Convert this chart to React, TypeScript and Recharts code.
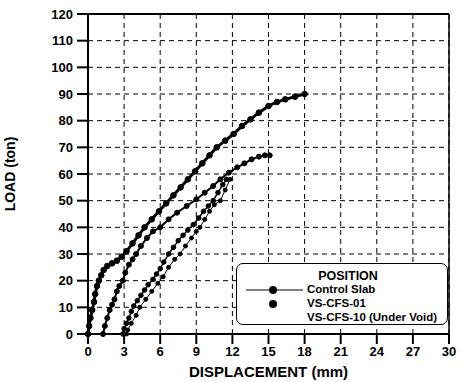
import React from "react";
import {
  CartesianGrid,
  Line,
  LineChart,
  ReferenceLine,
  XAxis,
  YAxis,
} from "recharts";

const FONT = '"Liberation Sans", Arial, sans-serif';

const xTicks = [0, 3, 6, 9, 12, 15, 18, 21, 24, 27, 30];
const yTicks = [0, 10, 20, 30, 40, 50, 60, 70, 80, 90, 100, 110, 120];

const seriesNames = ["Control Slab", "VS-CFS-01", "VS-CFS-10 (Under Void)"];

// curve A (steep start, ends at 90 ton)
const controlDisp = [0, 0.1, 0.2, 0.35, 0.5, 0.6, 0.75, 0.9, 1.1, 1.3, 1.6, 2.0, 2.4, 2.8, 3.2, 3.7, 4.2, 4.7, 5.3, 5.9, 6.5, 7.1, 7.7, 8.3, 8.9, 9.5, 10.1, 10.7, 11.4, 12.1, 12.8, 13.5, 14.2, 15.0, 15.7, 16.4, 17.2, 18.0];
const controlLoad = [0, 3, 6, 9, 12, 15, 18, 20, 22, 24, 25.5, 26.5, 27.5, 29, 31, 34, 37, 40, 43, 46, 49, 52, 55, 58, 61, 64, 67, 70, 72.5, 75, 78, 80.5, 83, 85.5, 87, 88, 89, 90];

// curve B (ends at ~67 ton)
const cfs01Disp = [1.25, 1.4, 1.6, 1.8, 2.0, 2.2, 2.4, 2.6, 2.9, 3.1, 3.4, 3.7, 4.0, 4.4, 4.9, 5.4, 6.0, 6.7, 7.4, 8.2, 9.0, 9.7, 10.4, 11.0, 11.7, 12.4, 13.0, 13.6, 14.2, 14.7, 15.1];
const cfs01Load = [0, 3, 6, 9, 11, 13, 16, 18, 20, 23, 26, 28, 30, 33, 36, 38.5, 40, 43, 45.5, 48, 50.5, 53, 55.5, 58, 60.5, 62.5, 64, 65.5, 66.5, 67, 67];

// curve C
const cfs10Disp = [2.9, 3.0, 3.2, 3.4, 3.6, 3.8, 4.1, 4.4, 4.7, 5.0, 5.4, 5.7, 6.0, 6.3, 6.7, 7.1, 7.5, 7.9, 8.3, 8.75, 9.2, 9.6, 10.0, 10.4, 10.8, 11.2, 11.5];
const cfs10Load = [0, 2, 4, 6, 8.5, 10.5, 12.5, 14.5, 16.5, 18.5, 20.5, 22.5, 24.5, 27, 30, 32.5, 35, 37, 39, 41, 43.5, 46, 48, 50, 53, 56, 58];

// curve D (thin line with dots)
const voidDisp = [3.2, 3.3, 3.6, 4.0, 4.3, 4.8, 5.3, 5.8, 6.25, 6.7, 7.2, 7.65, 8.1, 8.6, 9.0, 9.3, 9.7, 10.1, 10.5, 11.0, 11.4, 11.8];
const voidLoad = [0, 1.5, 4, 7, 10, 13, 16, 19, 21.5, 25, 28, 30, 33, 36, 38.5, 40, 43, 46, 48.5, 50, 54, 58];

const toPoints = (xs: number[], ys: number[]) => xs.map((x, i) => ({ x, y: ys[i] }));

const tickStyle = { fill: "#000", fontSize: 13, fontWeight: 700, fontFamily: FONT };

export default function App() {
  return (
    <div style={{ position: "absolute", left: 0, top: 0, width: 462, height: 382, background: "#fff" }}>
      <LineChart width={462} height={382} margin={{ top: 14, right: 13, bottom: 0, left: 0 }}>
        <CartesianGrid stroke="#000" strokeDasharray="5 4" strokeWidth={1} />
        <XAxis
          type="number"
          dataKey="x"
          domain={[0, 30]}
          ticks={xTicks}
          interval={0}
          height={48}
          stroke="#000"
          strokeWidth={2}
          tickSize={10}
          tickMargin={3}
          tick={tickStyle}
          label={{ value: "DISPLACEMENT  (mm)", position: "insideBottom", offset: 5, fill: "#000", fontSize: 15, fontWeight: 700, fontFamily: FONT }}
        />
        <YAxis
          type="number"
          domain={[0, 120]}
          ticks={yTicks}
          interval={0}
          width={88}
          stroke="#000"
          strokeWidth={2}
          tickSize={11}
          tickMargin={4}
          tick={tickStyle}
          label={{ value: "LOAD  (ton)", angle: -90, position: "insideLeft", offset: 10, fill: "#000", fontSize: 14, fontWeight: 700, fontFamily: FONT, style: { textAnchor: "middle" } }}
        />
        <ReferenceLine y={120} stroke="#000" strokeWidth={2} />
        <ReferenceLine x={30} stroke="#000" strokeWidth={1.5} />
        <Line
          data={toPoints(voidDisp, voidLoad)}
          dataKey="y"
          name={seriesNames[2]}
          type="linear"
          stroke="#000"
          strokeWidth={1}
          dot={{ r: 2, fill: "#000", stroke: "#000", strokeWidth: 1 }}
          isAnimationActive={false}
        />
        <Line
          data={toPoints(cfs10Disp, cfs10Load)}
          dataKey="y"
          name={seriesNames[2]}
          type="linear"
          stroke="#000"
          strokeWidth={1.5}
          dot={{ r: 2.3, fill: "#000", stroke: "#000", strokeWidth: 1 }}
          isAnimationActive={false}
        />
        <Line
          data={toPoints(cfs01Disp, cfs01Load)}
          dataKey="y"
          name={seriesNames[1]}
          type="linear"
          stroke="#000"
          strokeWidth={2}
          dot={{ r: 2.5, fill: "#000", stroke: "#000", strokeWidth: 1 }}
          isAnimationActive={false}
        />
        <Line
          data={toPoints(controlDisp, controlLoad)}
          dataKey="y"
          name={seriesNames[0]}
          type="linear"
          stroke="#000"
          strokeWidth={3}
          dot={{ r: 2.8, fill: "#000", stroke: "#000", strokeWidth: 1 }}
          isAnimationActive={false}
        />
      </LineChart>
      <div
        style={{
          position: "absolute",
          left: 236,
          top: 263,
          width: 212,
          height: 62,
          boxSizing: "border-box",
          border: "1.5px solid #000",
          borderRadius: 7,
          background: "#fff",
          fontFamily: FONT,
          fontWeight: 700,
          fontSize: 11.5,
          color: "#000",
        }}
      >
        <div style={{ position: "absolute", left: 0, width: "100%", top: 5, textAlign: "center", fontSize: 12.5, paddingLeft: 12, boxSizing: "border-box" }}>
          POSITION
        </div>
        <svg style={{ position: "absolute", left: 0, top: 0 }} width={70} height={60}>
          <line x1={9} x2={66} y1={26} y2={26} stroke="#000" strokeWidth={1} />
          <circle cx={36} cy={26} r={4} fill="#000" />
          <circle cx={36} cy={40} r={4} fill="#000" />
        </svg>
        <div style={{ position: "absolute", left: 70, top: 19 }}>{seriesNames[0]}</div>
        <div style={{ position: "absolute", left: 70, top: 33 }}>{seriesNames[1]}</div>
        <div style={{ position: "absolute", left: 70, top: 47 }}>{seriesNames[2]}</div>
      </div>
    </div>
  );
}
